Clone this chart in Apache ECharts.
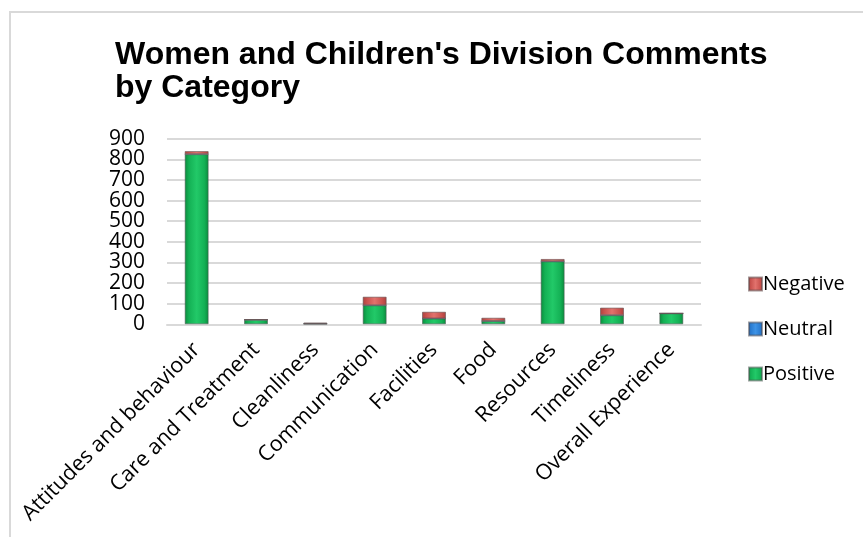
<!DOCTYPE html>
<html>
<head>
<meta charset="utf-8">
<script src="https://cdn.jsdelivr.net/npm/echarts@6/dist/echarts.min.js"></script>
<style>
  html, body { margin: 0; padding: 0; background: #fff; }
  #chart { width: 863px; height: 537px; }
</style>
</head>
<body>
<div id="chart"></div>
<script>
// Comment counts per category, split by sentiment
const categories = [
  'Attitudes and behaviour', 'Care and Treatment', 'Cleanliness',
  'Communication', 'Facilities', 'Food', 'Resources', 'Timeliness',
  'Overall Experience'
];
const positive = [825, 22, 3, 92, 28, 16, 305, 44, 53];
const neutral  = [0, 0, 0, 0, 0, 0, 0, 0, 0];
const negative = [15, 2, 5, 42, 33, 16, 12, 37, 0];

// value scale and its tick labels (labels sit on a companion axis so
// every one of the closely packed ticks gets its number)
const yTicks = { min: 0, max: 900, interval: 100 };
const yTickLabels = ['0', '100', '200', '300', '400', '500', '600', '700', '800', '900'];
const legendOrder = ['Negative', 'Neutral', 'Positive'];

// horizontal shading to give the columns a bevelled look
function bevel(edge, mid, light) {
  return new echarts.graphic.LinearGradient(0, 0, 1, 0, [
    { offset: 0, color: edge },
    { offset: 0.18, color: mid },
    { offset: 0.5, color: light },
    { offset: 0.82, color: mid },
    { offset: 1, color: edge }
  ]);
}

const font = '"Open Sans", "Noto Sans", sans-serif';
const chart = echarts.init(document.getElementById('chart'), null, { renderer: 'canvas' });

chart.setOption({
  animation: false,
  backgroundColor: '#ffffff',
  title: {
    text: "Women and Children's Division Comments\nby Category",
    left: 115,
    top: 39,
    padding: 0,
    textStyle: {
      fontFamily: '"Liberation Sans", Arial, sans-serif',
      fontWeight: 'bold',
      fontSize: 32,
      lineHeight: 33,
      color: '#000'
    }
  },
  legend: {
    data: legendOrder,
    orient: 'vertical',
    left: 743,
    top: 269,
    itemWidth: 13,
    itemHeight: 13,
    itemGap: 25,
    icon: 'rect',
    textStyle: { fontFamily: font, fontSize: 20, color: '#000', padding: [0, 0, 0, -4] }
  },
  grid: { left: 167, right: 162, top: 138.7, bottom: 212.7 },
  xAxis: {
    type: 'category',
    data: categories,
    axisLine: { lineStyle: { color: '#d9d9d9', width: 2 } },
    axisTick: { show: false },
    axisLabel: {
      interval: 0,
      rotate: 45,
      margin: 22,
      fontFamily: font,
      fontSize: 21.5,
      color: '#000'
    }
  },
  yAxis: [
    {
      type: 'value',
      min: yTicks.min,
      max: yTicks.max,
      interval: yTicks.interval,
      axisLine: { show: false },
      axisTick: { show: false },
      axisLabel: { show: false },
      splitLine: { lineStyle: { color: '#d9d9d9', width: 2 } }
    },
    {
      type: 'category',
      data: yTickLabels,
      position: 'left',
      boundaryGap: false,
      axisLine: { show: false },
      axisTick: { show: false },
      splitLine: { show: false },
      axisLabel: { interval: 0, margin: 22, fontFamily: font, fontSize: 21, color: '#000' }
    }
  ],
  series: [
    {
      name: 'Positive', type: 'bar', stack: 'all', data: positive, barWidth: 24, yAxisIndex: 0,
      itemStyle: { color: bevel('#0a8a3c', '#14b155', '#22c968'), borderColor: 'rgba(80,90,85,0.55)', borderWidth: 1 }
    },
    {
      name: 'Neutral', type: 'bar', stack: 'all', data: neutral, barWidth: 24, yAxisIndex: 0,
      itemStyle: { color: bevel('#1a5fa8', '#2a7bd0', '#3e93e6'), borderColor: 'rgba(80,80,90,0.55)', borderWidth: 1 }
    },
    {
      name: 'Negative', type: 'bar', stack: 'all', data: negative, barWidth: 24, yAxisIndex: 0,
      itemStyle: { color: bevel('#a9413e', '#c9524e', '#e2726d'), borderColor: 'rgba(100,80,80,0.6)', borderWidth: 1 }
    }
  ],
  graphic: [
    {
      type: 'polyline',
      silent: true,
      shape: { points: [[10, 537], [10, 12], [863, 12]] },
      style: { stroke: '#d9d9d9', lineWidth: 2, fill: null }
    }
  ]
});
</script>
</body>
</html>
